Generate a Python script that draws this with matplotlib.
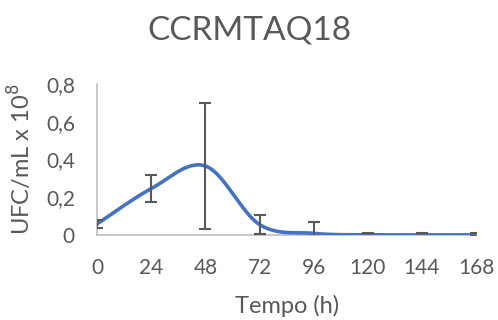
import numpy as np
import matplotlib.pyplot as plt

# time in hours, UFC/mL x 10^8
tempo = [0, 24, 48, 72, 96, 120, 144, 168]
ufc = [0.058, 0.245, 0.365, 0.055, 0.008, 0.0, 0.0, 0.0]
desvio = [0.02, 0.07, 0.335, 0.05, 0.06, 0.012, 0.012, 0.008]

plt.rcParams['font.family'] = ['Lato', 'DejaVu Sans']
cinza = '#595959'


def excel_smooth(x, y, n=40):
    # bezier smoothing like Excel's "smoothed line"
    x = np.asarray(x, float)
    y = np.asarray(y, float)
    px = np.concatenate([[x[0]], x, [x[-1]]])
    py = np.concatenate([[y[0]], y, [y[-1]]])
    xs, ys = [], []
    t = np.linspace(0, 1, n)
    for i in range(len(x) - 1):
        p0 = np.array([x[i], y[i]])
        p3 = np.array([x[i + 1], y[i + 1]])
        p1 = p0 + (np.array([px[i + 2], py[i + 2]]) - np.array([px[i], py[i]])) / 6
        p2 = p3 - (np.array([px[i + 3], py[i + 3]]) - np.array([px[i + 1], py[i + 1]])) / 6
        b = ((1 - t) ** 3)[:, None] * p0 + (3 * (1 - t) ** 2 * t)[:, None] * p1 \
            + (3 * (1 - t) * t ** 2)[:, None] * p2 + (t ** 3)[:, None] * p3
        xs.extend(b[:, 0])
        ys.extend(b[:, 1])
    return xs, ys


fig = plt.figure(figsize=(4.98, 3.2), dpi=100)
ax = fig.add_axes([0.195, 0.266, 0.761, 0.472])

sx, sy = excel_smooth(tempo, ufc)
ax.plot(sx, sy, color='#4472C4', lw=2.6, solid_capstyle='round', zorder=2)
ax.errorbar(tempo, ufc, yerr=desvio, fmt='none', ecolor=cinza, elinewidth=1.5,
            capsize=4.3, capthick=1.5, zorder=3)

ax.set_xlim(0, 168)
ax.set_ylim(0, 0.8)
ax.set_xticks(tempo)
ax.set_yticks([0, 0.2, 0.4, 0.6, 0.8])
ax.set_yticklabels(['0', '0,2', '0,4', '0,6', '0,8'])
ax.tick_params(length=0, labelsize=15, colors=cinza)
ax.tick_params(axis='y', pad=16)
ax.tick_params(axis='x', pad=17)
for s in ['top', 'right']:
    ax.spines[s].set_visible(False)
for s in ['left', 'bottom']:
    ax.spines[s].set_color('#BFBFBF')
    ax.spines[s].set_linewidth(1.2)
ax.spines['bottom'].set_zorder(1)

ax.set_xlabel('Tempo (h)', fontsize=17, color=cinza, labelpad=12)
ax.set_ylabel('UFC/mL x 10$^8$', fontsize=17, color=cinza, labelpad=8)
fig.text(0.5, 0.905, 'CCRMTAQ18', ha='center', va='center', fontsize=24, color=cinza)

fig.savefig('out.png', dpi=100)
